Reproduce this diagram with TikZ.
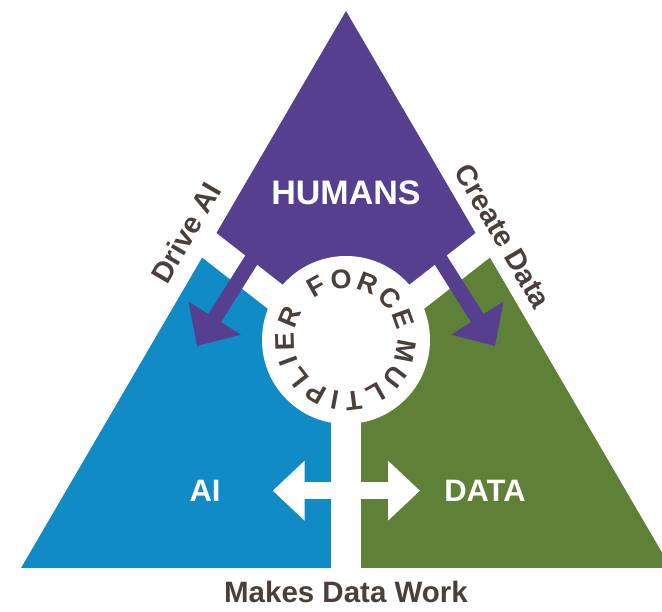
\documentclass[tikz,border=0pt]{standalone}
\usepackage{fontspec}
\setmainfont{Liberation Sans}
\usetikzlibrary{arrows.meta,calc}

\definecolor{humanpurple}{HTML}{563F8E}
\definecolor{aiblue}{HTML}{118BC6}
\definecolor{datagreen}{HTML}{5E8037}
\definecolor{labelbrown}{HTML}{4A3F3B}

\tikzset{
  band/.style={white,line width=28pt},
  flow/.style={humanpurple,line width=15pt,-{Triangle[length=33pt,width=60pt]}},
  corner/.style={white,inner sep=0pt,font=\fontsize{31}{31}\selectfont\bfseries},
  side/.style={labelbrown,inner sep=0pt,font=\fontsize{29}{29}\selectfont\bfseries},
  ring/.style={labelbrown,inner sep=0pt,font=\fontsize{27}{27}\selectfont\bfseries},
}

\begin{document}
\begin{tikzpicture}[x=1pt,y=1pt]
  \useasboundingbox (0,0) rectangle (662,612);
  \clip (0,0) rectangle (662,612);
  % corners of the big triangle and the hub
  \coordinate (top) at (346,601);
  \coordinate (bl) at (21,44);
  \coordinate (br) at (671,44);
  \coordinate (bm) at (346,44);
  \coordinate (hub) at (346,272);
  \coordinate (meet) at (346,260);
  \coordinate (lcut) at (209.3,366.7);
  \coordinate (rcut) at (482.7,366.7);

  % the three parts
  \fill[aiblue] (lcut) -- (bl) -- (bm) -- (meet) -- cycle;
  \fill[datagreen] (rcut) -- (br) -- (bm) -- (meet) -- cycle;
  \fill[humanpurple] (top) -- (lcut) -- (meet) -- (rcut) -- cycle;

  % white gaps and the hub
  \draw[band] ($(lcut)!-0.1!(meet)$) -- (meet);
  \draw[band] ($(rcut)!-0.1!(meet)$) -- (meet);
  \draw[band,line width=30pt] (meet) -- (346,20);
  \fill[white] (hub) circle [radius=84];

  % humans drive ai and create data
  \coordinate (ltail) at (264,372);
  \coordinate (ltip) at (197,266);
  \coordinate (rtail) at (428,372);
  \coordinate (rtip) at (495,266);
  \draw[flow] (ltail) -- (ltip);
  \draw[flow] (rtail) -- (rtip);

  % two way arrow at the bottom
  \coordinate (toai) at (272.7,121.3);
  \coordinate (todata) at (420,121.3);
  \draw[white,line width=17pt,{Triangle[length=32pt,width=58pt]}-{Triangle[length=32pt,width=58pt]}] (toai) -- (todata);

  % labels
  \node[corner,anchor=base,font=\fontsize{34}{34}\selectfont\bfseries] (humans) at (346,407) {HUMANS};
  \node[corner,anchor=base] (ai) at (205,110) {AI};
  \node[corner,anchor=base] (data) at (485,110) {DATA};
  \node[side,anchor=base,font=\fontsize{29.5}{29.5}\selectfont\bfseries] (work) at (346,9) {Makes Data Work};
  \node[side,rotate=59.7] (drive) at (186,379) {Drive AI};
  \node[side,rotate=-59.7] (create) at (503,376) {Create Data};

  % lettering round the hub, one letter at a time
  \foreach \l/\a [count=\i] in {F/118.8,O/94.6,R/69.0,C/44.1,E/19.9,
      M/-10.9,U/-37.2,L/-60.7,T/-82.8,I/-100.6,P/-119.2,L/-142.0,I/-159.8,E/-178.4,R/-202.6}
    \node[ring,rotate=\a-90] (ring-\i) at ($(hub)+(\a:61)$) {\l};
\end{tikzpicture}
\end{document}
